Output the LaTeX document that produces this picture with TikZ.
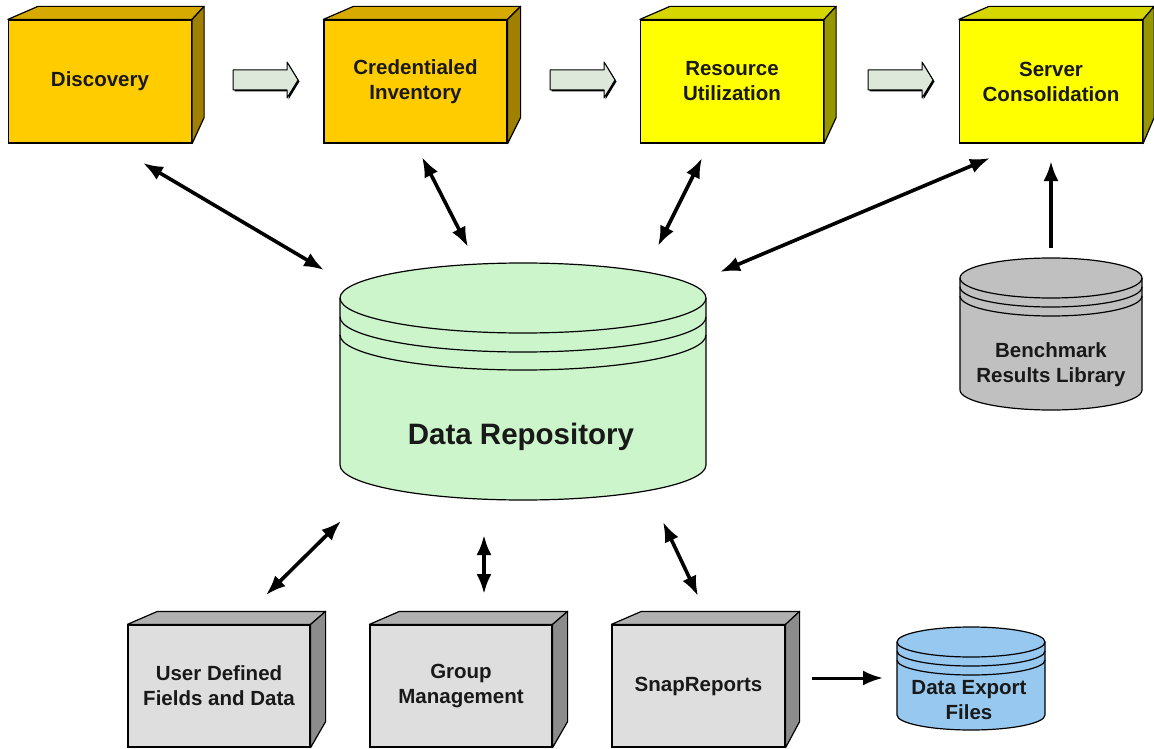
\documentclass[tikz,border=0pt]{standalone}
\usepackage{fontspec}
\setmainfont{Liberation Sans}
\usetikzlibrary{arrows.meta,calc}
\definecolor{gold}{RGB}{255,204,0}
\definecolor{goldtop}{RGB}{214,170,0}
\definecolor{goldside}{RGB}{160,128,0}
\definecolor{yel}{RGB}{255,255,0}
\definecolor{yeltop}{RGB}{214,214,0}
\definecolor{yelside}{RGB}{150,150,0}
\definecolor{gfront}{RGB}{222,222,222}
\definecolor{gtop}{RGB}{176,176,176}
\definecolor{gside}{RGB}{140,140,140}
\definecolor{repo}{RGB}{204,245,204}
\definecolor{bench}{RGB}{192,192,192}
\definecolor{export}{RGB}{150,200,240}
\definecolor{barrow}{RGB}{222,232,218}
\newcommand\boxfaces[4]{%
  \filldraw[fill=#2,draw=black,line width=1.2pt,line join=round] (#1.north west) -- ++(30,13) -- ($(#1.north east)+(#4,13)$) -- (#1.north east) -- cycle;
  \filldraw[fill=#3,draw=black,line width=1.2pt,line join=round] (#1.north east) -- ++(#4,13) -- ($(#1.south east)+(#4,26)$) -- (#1.south east) -- cycle;}
% cylinder: cx, top-centre y, rx, ry, bottom-centre y, fill, ring offsets
\newcommand\cylshape[8]{%
  \filldraw[fill=#6,draw=black,line width=1.2pt] (#1-#3,#2) -- (#1-#3,#5) arc[start angle=180,end angle=360,x radius=#3,y radius=#4] -- (#1+#3,#2) arc[start angle=0,end angle=180,x radius=#3,y radius=#4] -- cycle;
  \draw[line width=1.2pt] (#1-#3,#2) arc[start angle=180,end angle=360,x radius=#3,y radius=#4];
  \draw[line width=1.2pt] (#1-#3,#2-#7) arc[start angle=180,end angle=360,x radius=#3,y radius=#4];
  \draw[line width=1.2pt] (#1-#3,#2-#8) arc[start angle=180,end angle=360,x radius=#3,y radius=#4];}
\newcommand\blockarrow[1]{%
  \fill[black] ($(#1)+(1.5,-1.5)$) ++(0,10) -- ++(54,0) -- ++(0,8) -- ++(11,-18) -- ++(-11,-18) -- ++(0,8) -- ++(-54,0) -- cycle;
  \filldraw[fill=barrow,draw=black,line width=1pt,line join=round] (#1) ++(0,10) -- ++(54,0) -- ++(0,8) -- ++(11,-18) -- ++(-11,-18) -- ++(0,8) -- ++(-54,0) -- cycle;}
\begin{document}
\begin{tikzpicture}[x=1pt,y=1pt,
  lbl/.style={font=\bfseries\fontsize{20.5}{25}\selectfont,align=center,text=black!90,inner sep=0},
  box/.style={lbl,draw=black,line width=1.2pt,minimum height=123pt,minimum width=183pt},
  dbl/.style={line width=3.6pt,{Latex[length=20pt,width=15pt]}-{Latex[length=20pt,width=15pt]}},
  sgl/.style={line width=3.6pt,-{Latex[length=20pt,width=15pt]}}]
\useasboundingbox (0,0) rectangle (1154,-749);
\fill[white] (0,0) rectangle (1154,-749);

% top boxes
\node[box,fill=gold] (disc) at (100,-81.5) {Discovery};
\boxfaces{disc}{goldtop}{goldside}{12}
\node[box,fill=gold] (cred) at (415.5,-81.5) {Credentialed\\Inventory};
\boxfaces{cred}{goldtop}{goldside}{13}
\node[box,fill=yel] (res) at (732,-81.5) {Resource\\Utilization};
\boxfaces{res}{yeltop}{yelside}{12}
\node[box,fill=yel] (srv) at (1051,-81.5) {Server\\Consolidation};
\boxfaces{srv}{yeltop}{yelside}{11}

% block arrows
\coordinate (ba1) at (233,-80);
\coordinate (ba2) at (550,-80);
\coordinate (ba3) at (868,-80);
\blockarrow{ba1}
\blockarrow{ba2}
\blockarrow{ba3}

% data repository
\cylshape{523}{-298}{183}{35}{-465}{repo}{19}{37}
\node[lbl,font=\bfseries\fontsize{29.5}{33}\selectfont] (repo) at (521,-437) {Data Repository};

% benchmark
\cylshape{1051}{-278}{91}{20}{-390}{bench}{9}{18}
\node[lbl] (bench) at (1051,-364.5) {Benchmark\\Results Library};

% data export
\cylshape{971}{-642}{74}{15}{-715}{export}{9}{18}
\node[lbl] (exp) at (969,-700.5) {Data Export\\Files};

% bottom boxes
\node[box,fill=gfront,minimum width=182pt,minimum height=122pt] (udf) at (219,-686) {User Defined\\Fields and Data};
\boxfaces{udf}{gtop}{gside}{15}
\node[box,fill=gfront,minimum width=182pt,minimum height=122pt] (grp) at (461,-686) {Group\\Management};
\boxfaces{grp}{gtop}{gside}{15}
\node[box,fill=gfront,minimum width=173pt,minimum height=122pt] (snap) at (698.5,-686) {SnapReports};
\boxfaces{snap}{gtop}{gside}{14}

% connector end points
\coordinate (c1a) at (143,-163);  \coordinate (c1b) at (324,-270);
\coordinate (c2a) at (422,-157);  \coordinate (c2b) at (468,-247);
\coordinate (c3a) at (702,-158);  \coordinate (c3b) at (658,-246);
\coordinate (c4a) at (990,-158);  \coordinate (c4b) at (720,-272);
\coordinate (c5a) at (1051,-248); \coordinate (c5b) at (1051,-161);
\coordinate (c6a) at (341,-521);  \coordinate (c6b) at (266,-595);
\coordinate (c7a) at (484,-535);  \coordinate (c7b) at (484,-594);
\coordinate (c8a) at (663,-522);  \coordinate (c8b) at (698,-596);
\coordinate (c9a) at (812,-678);  \coordinate (c9b) at (883,-678);

\draw[dbl] (c1a) -- (c1b);
\draw[dbl] (c2a) -- (c2b);
\draw[dbl] (c3a) -- (c3b);
\draw[dbl] (c4a) -- (c4b);
\draw[sgl] (c5a) -- (c5b);
\draw[dbl] (c6a) -- (c6b);
\draw[dbl] (c7a) -- (c7b);
\draw[dbl] (c8a) -- (c8b);
\draw[sgl,line width=3pt] (c9a) -- (c9b);
\end{tikzpicture}
\end{document}
